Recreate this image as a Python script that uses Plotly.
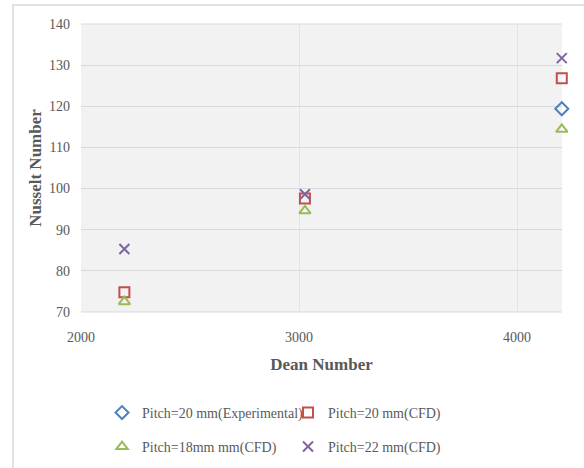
import plotly.graph_objects as go

# Dean number at each operating point
dean = [2199, 3027, 4205]

# Nusselt number per configuration
nu_exp_20 = [None, None, 119.4]
nu_cfd_20 = [74.8, 97.6, 126.8]
nu_cfd_18 = [72.5, 94.6, 114.4]
nu_cfd_22 = [85.3, 98.6, 131.7]

series = [
    ("Pitch=20 mm(Experimental)", nu_exp_20, "diamond-open", "#4F81BD", 10, "legend"),
    ("Pitch=20 mm(CFD)", nu_cfd_20, "square-open", "#C0504D", 10, "legend"),
    ("Pitch=18mm mm(CFD)", nu_cfd_18, "triangle-up-open", "#9BBB59", 10, "legend2"),
    ("Pitch=22 mm(CFD)", nu_cfd_22, "x-thin-open", "#8064A2", 10, "legend2"),
]

FONT = "Liberation Serif"
GREY = "#595959"

fig = go.Figure()
for name, vals, sym, col, size, leg in series:
    fig.add_trace(go.Scatter(
        x=dean, y=vals, name=name, mode="markers", legend=leg,
        cliponaxis=False,
        marker=dict(symbol=sym, size=size, color=col,
                    line=dict(color=col, width=2)),
    ))

legend_style = dict(
    orientation="h", xanchor="left", yanchor="middle",
    font=dict(family=FONT, size=14, color=GREY),
    bgcolor="rgba(0,0,0,0)", entrywidth=141, itemwidth=30,
)

fig.update_layout(
    width=584, height=468,
    margin=dict(l=81, r=22, t=24, b=156, autoexpand=False),
    paper_bgcolor="white",
    plot_bgcolor="#F2F2F2",
    font=dict(family=FONT, color=GREY),
    legend=dict(x=0.0437, y=-0.3506, **legend_style),
    legend2=dict(x=0.0437, y=-0.4686, **legend_style),
    xaxis=dict(
        range=[2000, 4206], tickvals=[2000, 3000, 4000],
        showgrid=True, gridcolor="#E4E4E4", gridwidth=1,
        zeroline=False, showline=False, automargin=False,
        tickfont=dict(family=FONT, size=14, color=GREY),
        ticklabelstandoff=15,
        title=dict(text="<b>Dean Number</b>", standoff=14,
                   font=dict(family=FONT, size=17, color=GREY)),
    ),
    yaxis=dict(
        range=[70, 140], dtick=10,
        showgrid=True, gridcolor="#D9D9D9", gridwidth=1,
        zeroline=False, showline=False, automargin=False,
        tickfont=dict(family=FONT, size=14, color=GREY),
        ticklabelstandoff=10,
        title=dict(text="<b>Nusselt Number</b>", standoff=3,
                   font=dict(family=FONT, size=17, color=GREY)),
    ),
    shapes=[
        # chart frame
        dict(type="rect", xref="paper", yref="paper",
             x0=-0.1414, x1=1.2, y0=-0.6, y1=1.066,
             line=dict(color="#D9D9D9", width=1.5), layer="below"),
        # horizontal rules along the plot edges
        dict(type="line", xref="paper", yref="paper", x0=0, x1=1, y0=0, y1=0,
             line=dict(color="#D9D9D9", width=1)),
        dict(type="line", xref="paper", yref="paper", x0=0, x1=1, y0=1, y1=1,
             line=dict(color="#D9D9D9", width=1)),
    ],
)

fig.write_html("out.html")
